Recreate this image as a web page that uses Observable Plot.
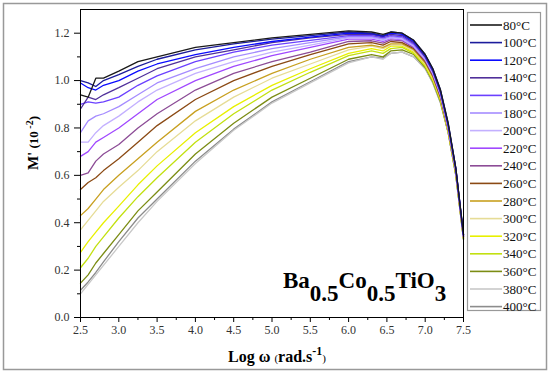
<!DOCTYPE html>
<html>
<head>
<meta charset="utf-8">
<script src="https://cdn.jsdelivr.net/npm/d3@7"></script>
<script src="https://cdn.jsdelivr.net/npm/@observablehq/plot@0.6"></script>
<style>
  html, body { margin: 0; padding: 0; background: #fff; }
  #chart { width: 550px; height: 375px; }
  #chart svg text { font-family: "Liberation Serif", "Times New Roman", serif !important; }
</style>
</head>
<body>
<div id="chart"></div>
<script>
// ---- data ----
const logW = [2.5, 2.6, 2.7, 2.8, 3.0, 3.25, 3.5, 4.0, 4.5, 5.0, 5.5, 6.0, 6.3, 6.45, 6.55, 6.7, 6.85, 7.0, 7.1, 7.2, 7.3, 7.4, 7.5];
const temps = [80, 100, 120, 140, 160, 180, 200, 220, 240, 260, 280, 300, 320, 340, 360, 380, 400];
const tempLabels = ["80°C","100°C","120°C","140°C","160°C","180°C","200°C","220°C","240°C","260°C","280°C","300°C","320°C","340°C","360°C","380°C","400°C"];
const colors = ["#1a1a1a","#1c1c9c","#0a0aff","#50309a","#6b40ff","#a58cff","#c3b0ff","#a048ff","#8c4c96","#8b4a14","#c8a020","#e6dc96","#e8f000","#c2e010","#7b8c14","#c8c8c8","#8c8c8c"];

const m80  = [0.94,0.93,1.01,1.01,1.04,1.08,1.10,1.14,1.16,1.18,1.195,1.21,1.205,1.195,1.205,1.20,1.17,1.11,1.05,0.96,0.82,0.63,0.35];
const m100 = [1.00,0.99,0.975,1.00,1.025,1.06,1.09,1.13,1.155,1.175,1.19,1.205,1.20,1.19,1.205,1.20,1.17,1.11,1.05,0.96,0.82,0.63,0.35];
const m120 = [0.99,0.97,0.96,0.98,1.00,1.04,1.07,1.11,1.14,1.165,1.183,1.20,1.198,1.188,1.20,1.195,1.165,1.105,1.045,0.955,0.815,0.63,0.35];
const m140 = [0.88,0.93,0.92,0.94,0.97,1.01,1.05,1.10,1.13,1.16,1.18,1.195,1.195,1.185,1.195,1.19,1.16,1.10,1.04,0.95,0.81,0.625,0.345];
const m160 = [0.90,0.91,0.905,0.91,0.93,0.98,1.02,1.08,1.12,1.15,1.17,1.19,1.19,1.18,1.19,1.185,1.155,1.10,1.04,0.95,0.81,0.625,0.345];
const m180 = [0.78,0.83,0.85,0.86,0.89,0.94,0.99,1.05,1.10,1.135,1.16,1.185,1.185,1.175,1.185,1.18,1.15,1.095,1.035,0.945,0.805,0.62,0.345];
const m200 = [0.74,0.74,0.78,0.81,0.85,0.91,0.96,1.03,1.08,1.12,1.15,1.18,1.18,1.17,1.18,1.175,1.145,1.09,1.03,0.94,0.80,0.62,0.34];
const m220 = [0.68,0.70,0.74,0.76,0.80,0.86,0.92,1.00,1.06,1.105,1.14,1.175,1.175,1.165,1.178,1.172,1.143,1.088,1.028,0.94,0.80,0.62,0.34];
const m240 = [0.60,0.61,0.66,0.69,0.73,0.80,0.86,0.96,1.03,1.08,1.12,1.165,1.168,1.158,1.172,1.168,1.14,1.085,1.025,0.935,0.80,0.615,0.34];
const m260 = [0.54,0.57,0.59,0.62,0.67,0.74,0.81,0.92,1.00,1.06,1.11,1.155,1.16,1.15,1.165,1.16,1.135,1.08,1.02,0.93,0.795,0.615,0.34];
const m280 = [0.43,0.46,0.50,0.54,0.60,0.67,0.74,0.87,0.96,1.03,1.09,1.14,1.15,1.14,1.155,1.155,1.13,1.075,1.015,0.925,0.79,0.61,0.335];
const m300 = [0.37,0.41,0.45,0.49,0.55,0.62,0.70,0.83,0.93,1.01,1.07,1.13,1.145,1.135,1.15,1.15,1.125,1.07,1.01,0.925,0.79,0.61,0.335];
const m320 = [0.275,0.32,0.36,0.40,0.47,0.56,0.64,0.78,0.89,0.98,1.05,1.115,1.135,1.125,1.145,1.145,1.12,1.065,1.005,0.92,0.785,0.605,0.335];
const m340 = [0.21,0.25,0.30,0.34,0.42,0.51,0.59,0.74,0.86,0.96,1.035,1.105,1.125,1.115,1.135,1.14,1.115,1.06,1.00,0.915,0.785,0.605,0.335];
const m360 = [0.145,0.18,0.23,0.27,0.35,0.45,0.53,0.69,0.82,0.93,1.01,1.09,1.11,1.10,1.125,1.13,1.11,1.055,0.995,0.91,0.78,0.60,0.33];
const m380 = [0.10,0.14,0.18,0.22,0.30,0.40,0.49,0.65,0.79,0.905,0.99,1.075,1.10,1.09,1.115,1.12,1.10,1.05,0.99,0.905,0.78,0.60,0.33];
const m400 = [0.115,0.15,0.19,0.235,0.32,0.42,0.50,0.66,0.795,0.91,0.995,1.08,1.10,1.095,1.115,1.12,1.10,1.05,0.99,0.905,0.78,0.60,0.33];

const xTicks = [2.5, 3.0, 3.5, 4.0, 4.5, 5.0, 5.5, 6.0, 6.5, 7.0, 7.5];
const xMinor = [2.75, 3.25, 3.75, 4.25, 4.75, 5.25, 5.75, 6.25, 6.75, 7.25];
const yTicks = [0.0, 0.2, 0.4, 0.6, 0.8, 1.0, 1.2];
const yMinor = [0.1, 0.3, 0.5, 0.7, 0.9, 1.1];

// ---- build table ----
const seriesList = [m80, m100, m120, m140, m160, m180, m200, m220, m240, m260, m280, m300, m320, m340, m360, m380, m400];
const rows = [];
for (let i = temps.length - 1; i >= 0; i--) {
  seriesList[i].forEach((v, j) => rows.push({t: tempLabels[i], x: logW[j], y: v}));
}

const serif = "'Liberation Serif', 'Times New Roman', serif";
const fmt = d3.format(".1f");
const plot = Plot.plot({
  width: 550,
  height: 375,
  marginLeft: 80,
  marginRight: 87,
  marginTop: 9,
  marginBottom: 58,
  style: {fontFamily: serif, fontSize: "12px", color: "#000", background: "#fff"},
  x: {domain: [2.5, 7.5]},
  y: {domain: [0, 1.3]},
  color: {type: "ordinal", domain: tempLabels, range: colors},
  marks: [
    Plot.line(rows, {x: "x", y: "y", z: "t", stroke: "t", strokeWidth: 1.3}),
    Plot.frame({stroke: "#000", strokeWidth: 1}),
    Plot.axisX({ticks: xTicks, tickSize: 5, tickPadding: 3, tickFormat: fmt, label: null, fill: "#333", stroke: "#000"}),
    Plot.axisX({ticks: xMinor, tickSize: 3, text: null, label: null, stroke: "#000"}),
    Plot.axisY({ticks: yTicks, tickSize: 6, tickPadding: 5, tickFormat: fmt, label: null, fill: "#333", stroke: "#000"}),
    Plot.axisY({ticks: yMinor, tickSize: 3, text: null, label: null, stroke: "#000"})
  ]
});
document.getElementById("chart").appendChild(plot);

const svg = d3.select(plot);
const sx = plot.scale("x"), sy = plot.scale("y");

// outer border
svg.insert("rect", ":first-child")
  .attr("x", 3.5).attr("y", 3.5).attr("width", 543).attr("height", 366)
  .attr("fill", "none").attr("stroke", "#999").attr("stroke-width", 1.5);

// legend
const lg = svg.append("g").attr("font-family", serif).attr("text-anchor", "start");
lg.append("rect").attr("x", 467.5).attr("y", 12.5).attr("width", 73).attr("height", 298)
  .attr("fill", "#fff").attr("stroke", "#999").attr("stroke-width", 1.2);
tempLabels.forEach((lab, i) => {
  const yy = 25 + i * 17.6;
  lg.append("line").attr("x1", 470).attr("x2", 502).attr("y1", yy).attr("y2", yy)
    .attr("stroke", colors[i]).attr("stroke-width", 1.6);
  lg.append("text").attr("x", 503).attr("y", yy + 4.5).attr("text-anchor", "start")
    .attr("font-size", 13).attr("fill", "#111").text(lab);
});

// x label
const xl = svg.append("text").attr("x", 228).attr("y", 362).attr("text-anchor", "start")
  .attr("font-family", serif).attr("fill", "#000");
xl.append("tspan").attr("font-size", 16).attr("font-weight", "bold").text("Log ω ");
xl.append("tspan").attr("font-size", 11).text("(");
xl.append("tspan").attr("font-size", 16).attr("font-weight", "bold").text("rad.s");
xl.append("tspan").attr("font-size", 12).attr("font-weight", "bold").attr("dy", -7).text("-1");
xl.append("tspan").attr("font-size", 11).attr("dy", 7).text(")");

// y label
const yl = svg.append("text").attr("transform", "translate(38,143) rotate(-90)")
  .attr("text-anchor", "middle").attr("font-family", serif).attr("fill", "#000");
yl.append("tspan").attr("font-size", 15).attr("font-weight", "bold").text("M'");
yl.append("tspan").attr("font-size", 13).attr("font-weight", "bold").text(" (10");
yl.append("tspan").attr("font-size", 10).attr("font-weight", "bold").attr("dy", -5).text(" -2");
yl.append("tspan").attr("font-size", 13).attr("font-weight", "bold").attr("dy", 5).text(")");

// compound annotation
const an = svg.append("text").attr("x", sx.apply(5.15)).attr("y", sy.apply(0.122))
  .attr("text-anchor", "start")
  .attr("font-family", serif).attr("font-weight", "bold").attr("font-size", 23).attr("fill", "#000");
an.append("tspan").text("Ba");
an.append("tspan").attr("dy", 13).text("0.5");
an.append("tspan").attr("dy", -13).text("Co");
an.append("tspan").attr("dy", 13).text("0.5");
an.append("tspan").attr("dy", -13).text("TiO");
an.append("tspan").attr("dy", 13).text("3");
</script>
</body>
</html>
